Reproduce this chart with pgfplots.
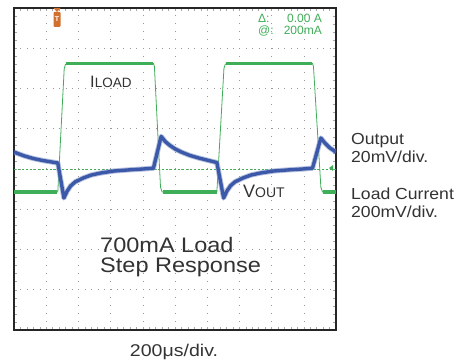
\documentclass[border=0pt]{standalone}
\usepackage{pgfplots}
\pgfplotsset{compat=1.18}
\usepackage{fontspec}
\setmainfont{Liberation Sans}
\usepackage{graphicx}
\definecolor{scgreen}{HTML}{3FAE58}
\definecolor{scblue}{HTML}{3C58A8}
\definecolor{txt}{HTML}{333333}
\definecolor{trig}{HTML}{D2702E}
\begin{document}
\begin{tikzpicture}[x=1pt,y=1pt]
\path[fill=white] (0,0) rectangle (465,361);
\begin{axis}[
  at={(14pt,31pt)}, anchor=south west,
  scale only axis, width=322pt, height=322pt,
  xmin=0, xmax=10, ymin=0, ymax=8,
  xtick={0,...,10}, ytick={0,...,8},
  minor x tick num=4, minor y tick num=4,
  xticklabels={}, yticklabels={},
  tick align=inside,
  major tick length=3pt, minor tick length=3pt,
  tick style={gray!70, line width=0.5pt},
  grid=major,
  x grid style={gray!80, line width=0.6pt, dash pattern=on 0.7pt off 7.35pt},
  y grid style={gray!80, line width=0.6pt, dash pattern=on 0.7pt off 5.74pt},
  axis line style={line width=2pt, black!85},
  clip=true,
]
% reference level
\addplot[scgreen, line width=0.6pt, dash pattern=on 2pt off 2pt] coordinates {(0,4) (10,4)};
% load current (thin full trace)
\addplot[scgreen, line width=0.8pt] coordinates {
(0,3.43) (1.36,3.43) (1.56,6.50) (1.60,6.60) (1.64,6.62) (4.33,6.62) (4.36,6.55) (4.55,3.55) (4.60,3.43)
(6.30,3.43) (6.52,6.50) (6.56,6.60) (6.60,6.62) (9.27,6.62) (9.30,6.55) (9.53,3.55) (9.58,3.43) (10,3.43)};
% noisy flat parts
\addplot[scgreen, line width=3.6pt] coordinates {(0,3.43) (1.35,3.43)};
\addplot[scgreen, line width=3.6pt] coordinates {(1.63,6.62) (4.33,6.62)};
\addplot[scgreen, line width=3.6pt] coordinates {(4.62,3.43) (6.30,3.43)};
\addplot[scgreen, line width=3.6pt] coordinates {(6.59,6.62) (9.27,6.62)};
\addplot[scgreen, line width=3.6pt] coordinates {(9.60,3.43) (10,3.43)};
% output voltage
\pgfplotstableread{
x y
0 4.42
0.3 4.33
0.6 4.26
0.9 4.21
1.2 4.17
1.36 4.15
1.55 3.28
1.65 3.45
1.76 3.58
1.9 3.68
2.16 3.78
2.4 3.85
2.69 3.90
3.1 3.95
3.6 3.98
4.0 4.00
4.33 4.02
4.57 4.81
4.7 4.68
4.85 4.58
5.0 4.50
5.2 4.42
5.45 4.34
5.75 4.27
6.05 4.21
6.30 4.16
6.51 3.28
6.61 3.45
6.72 3.58
6.86 3.68
7.12 3.78
7.36 3.85
7.65 3.90
8.06 3.95
8.56 3.98
8.96 4.00
9.27 4.02
9.53 4.77
9.65 4.65
9.8 4.53
10 4.42
}\vout
\addplot[scblue!60, line width=5.2pt, opacity=0.6, line join=round] table {\vout};
\addplot[scblue, line width=3.4pt, line join=round] table {\vout};
\end{axis}
% trigger marker
\fill[trig] (53.5,353) -- (60.5,353) -- (57,349) -- cycle;
\fill[trig, rounded corners=1pt] (53.5,334) rectangle (60.5,349);
\node[white, font=\fontsize{7}{7}\selectfont\bfseries, inner sep=0] at (57,341.5) {T};
% ground marker at right
\fill[scgreen] (329,193) -- (333,196) -- (333,190) -- cycle;
% scope readout
\node[scgreen, anchor=base west, inner sep=0, font=\fontsize{12}{12}\selectfont] at (258,338) {Δ:};
\node[scgreen, anchor=base west, inner sep=0, font=\fontsize{12}{12}\selectfont] at (258,326) {@:};
\node[scgreen, anchor=base east, inner sep=0, font=\fontsize{12}{12}\selectfont] at (322,338) {0.00 A};
\node[scgreen, anchor=base east, inner sep=0, font=\fontsize{12}{12}\selectfont] at (322,326) {200mA};
% trace labels
\node[txt, anchor=base west, inner sep=0] at (90,273) {\fontsize{16.5}{16}\selectfont I\fontsize{13.5}{14}\selectfont LOAD};
\node[txt, anchor=base west, inner sep=0] at (243,163) {\fontsize{18}{16}\selectfont V\fontsize{14}{14}\selectfont OUT};
\node[txt, anchor=base west, inner sep=0, font=\fontsize{21}{20}\selectfont] at (100,108) {\scalebox{1.12}[1]{700mA Load}};
\node[txt, anchor=base west, inner sep=0, font=\fontsize{21}{20}\selectfont] at (100,88) {\scalebox{1.12}[1]{Step Response}};
% outside labels
\node[txt, anchor=base, inner sep=0, font=\fontsize{17}{17}\selectfont] at (174,5) {\scalebox{1.15}[1]{200μs/div.}};
\node[txt, anchor=base west, inner sep=0, font=\fontsize{16}{16}\selectfont] at (351,216) {\scalebox{1.1}[1]{Output}};
\node[txt, anchor=base west, inner sep=0, font=\fontsize{16}{16}\selectfont] at (351,198) {\scalebox{1.1}[1]{20mV/div.}};
\node[txt, anchor=base west, inner sep=0, font=\fontsize{16}{16}\selectfont] at (351,161) {\scalebox{1.1}[1]{Load Current}};
\node[txt, anchor=base west, inner sep=0, font=\fontsize{16}{16}\selectfont] at (351,143) {\scalebox{1.1}[1]{200mV/div.}};
\end{tikzpicture}
\end{document}
